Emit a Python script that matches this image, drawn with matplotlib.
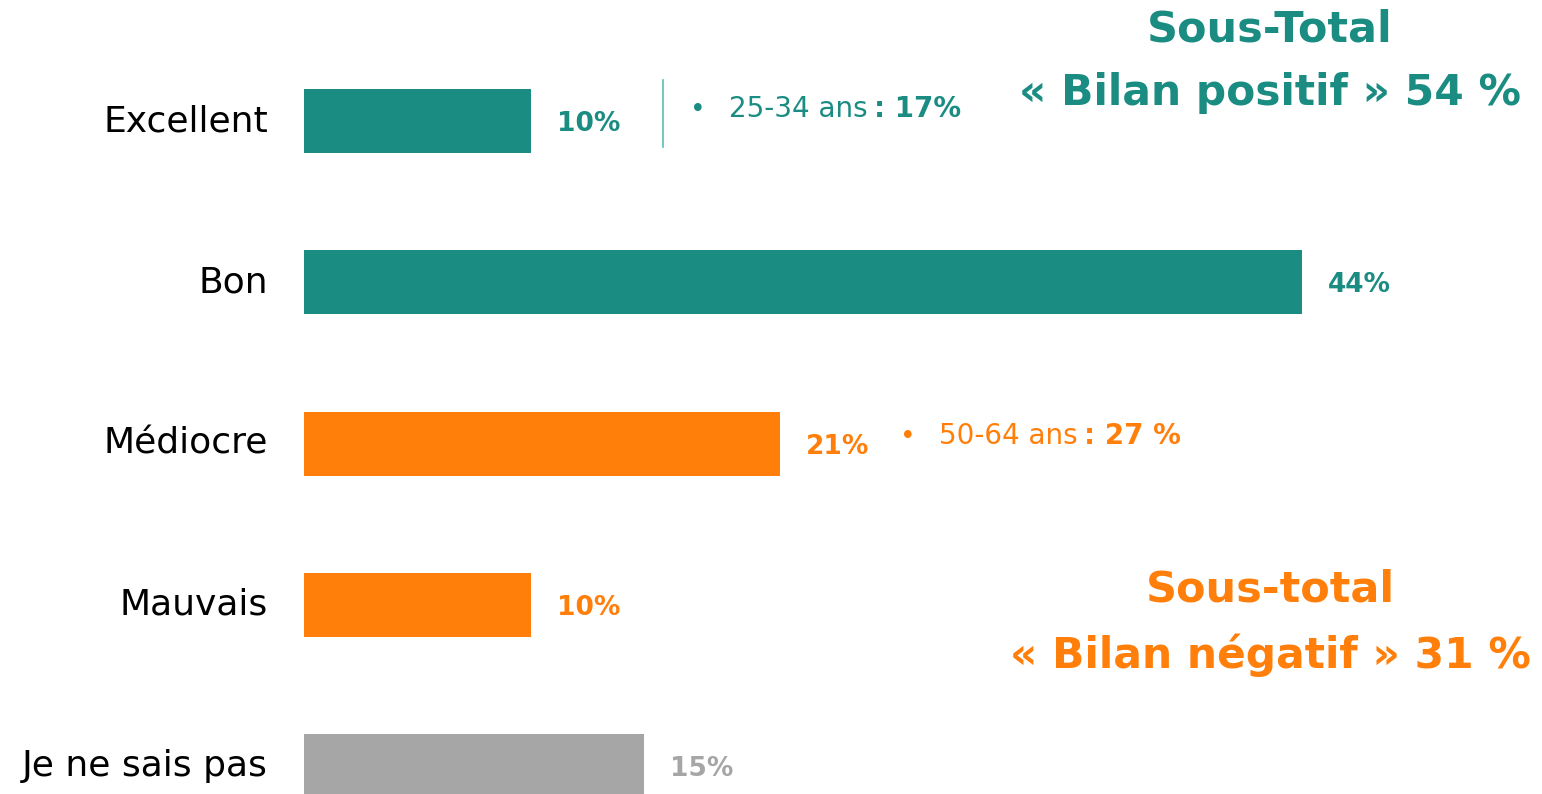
import numpy as np
import matplotlib.pyplot as plt

# data
categories = ["Excellent", "Bon", "Médiocre", "Mauvais", "Je ne sais pas"]
values = [10, 44, 21, 10, 15]
value_labels = ["10%", "44%", "21%", "10%", "15%"]
groups = ["pos", "pos", "neg", "neg", "nsp"]

TEAL = "#1a8c82"
ORANGE = "#ff7f0a"
GREY = "#a6a6a6"
colors = {"pos": TEAL, "neg": ORANGE, "nsp": GREY}

W, H = 1542, 794
fig = plt.figure(figsize=(W / 100, H / 100), dpi=100)
plt.rcParams['font.family'] = ['DejaVu Sans']

# axes placed in pixel terms: bars start at x=304
ax = fig.add_axes([304 / W, 0, 1 - 304 / W, 1])
px_per_pct = (1302 - 304) / 44.0
ax.set_xlim(0, (W - 304) / px_per_pct)
step = 161.25
ax.set_ylim((H - 121) / step, -121 / step)
ax.axis("off")

y = np.arange(len(categories))
ax.barh(y, values, height=64 / step, color=[colors[g] for g in groups])

for yi, v, lab, g, cat in zip(y, values, value_labels, groups, categories):
    ax.text(v + 26 / px_per_pct, yi + 3 / step, lab, color=colors[g],
            fontsize=19, fontweight="bold", va="center", ha="left")
    ax.text(-36 / px_per_pct, yi, cat, color="black", fontsize=26,
            va="center", ha="right", clip_on=False)


def side_note(x_px, y_val, plain, bold, color):
    # bullet, plain part, then bold part glued to the plain part's extent
    ax.text(x_px / px_per_pct, y_val, "•", color=color, fontsize=19,
            va="bottom", ha="left")
    t = ax.text((x_px + 39) / px_per_pct, y_val, plain, color=color,
                fontsize=20, va="bottom", ha="left")
    ax.annotate(bold, xy=(1, 0), xycoords=t, xytext=(6, 0),
                textcoords="offset pixels", color=color, fontsize=20,
                fontweight="bold", va="bottom", ha="left")


ax.plot([359 / px_per_pct] * 2, [-41 / step, 26 / step], color="#5bbdb4", lw=1.2)
side_note(386, 2 / step, "25-34 ans", ": 17%", TEAL)
side_note(596, 2 + 6 / step, "50-64 ans", ": 27 %", ORANGE)

# sub-totals
fig.text(1270 / W, 1 - 30 / H, "Sous-Total", color=TEAL, fontsize=31,
         fontweight="bold", ha="center", va="center")
fig.text(1270 / W, 1 - 93 / H, "« Bilan positif » 54 %", color=TEAL, fontsize=30.5,
         fontweight="bold", ha="center", va="center")
fig.text(1270 / W, 1 - 590 / H, "Sous-total", color=ORANGE, fontsize=31,
         fontweight="bold", ha="center", va="center")
fig.text(1270 / W, 1 - 655 / H, "« Bilan négatif » 31 %", color=ORANGE, fontsize=30.5,
         fontweight="bold", ha="center", va="center")

fig.savefig("out.png", dpi=100, facecolor="white")
